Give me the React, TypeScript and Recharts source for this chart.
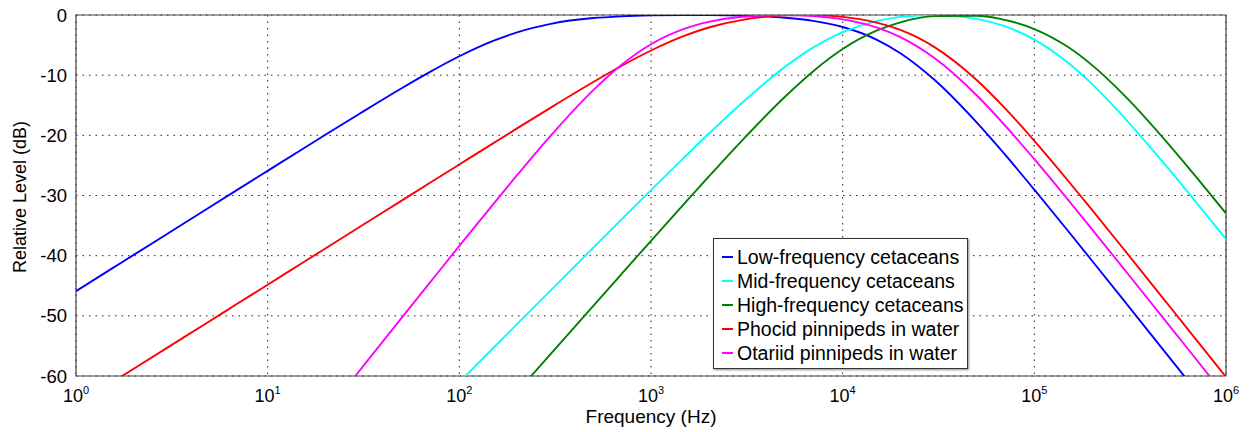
import React from 'react';
import { LineChart, Line, XAxis, YAxis, CartesianGrid, ReferenceArea, Legend } from 'recharts';

// Frequency samples (Hz)
const frequencies = [
  1, 1.5, 2, 3, 5, 7, 10, 15, 20, 30, 50, 70, 100, 150, 200, 300, 500, 700,
  1000, 1500, 2000, 3000, 5000, 7000, 10000, 15000, 20000, 30000, 50000, 70000,
  100000, 150000, 200000, 300000, 500000, 700000, 1000000,
];

// Relative level (dB) per group
const lowFrequencyCetaceans = [
  -45.89, -42.37, -39.87, -36.35, -31.91, -28.99, -25.9, -22.39, -19.91, -16.45, -12.17, -9.49,
  -6.86, -4.31, -2.88, -1.47, -0.51, -0.22, -0.06, 0.0, -0.01, -0.1, -0.46, -0.98, -2.0, -4.08,
  -6.35, -10.73, -17.85, -23.14, -29.03, -35.9, -40.84, -47.84, -56.69, -62.53, -68.72,
];
const midFrequencyCetaceans = [
  null, null, null, null, null, null, null, null, null, null, null, null,
  -61.02, -55.39, -51.39, -45.76, -38.68, -34.02, -29.11, -23.59, -19.74, -14.53, -8.62, -5.42,
  -2.86, -1.02, -0.31, 0.0, -0.64, -1.86, -4.09, -7.95, -11.49, -17.33, -25.51, -31.16, -37.25,
];
const highFrequencyCetaceans = [
  null, null, null, null, null, null, null, null, null, null, null, null, null, null,
  -62.66, -56.32, -48.34, -43.09, -37.54, -31.27, -26.87, -20.79, -13.59, -9.38, -5.66, -2.61,
  -1.22, -0.19, -0.12, -0.81, -2.33, -5.33, -8.33, -13.6, -21.41, -26.94, -32.96,
];
const phocidPinnipeds = [
  null, -61.3, -58.8, -55.28, -50.85, -47.92, -44.83, -41.3, -38.8, -35.28, -30.85, -27.93,
  -24.84, -21.33, -18.85, -15.39, -11.14, -8.48, -5.9, -3.43, -2.08, -0.8, -0.07, -0.02, -0.32,
  -1.26, -2.48, -5.29, -10.8, -15.44, -20.92, -27.55, -32.4, -39.34, -48.16, -53.99, -60.17,
];
const otariidPinnipeds = [
  null, null, null, null, null, null, null, null,
  -66.25, -59.21, -50.35, -44.53, -38.38, -31.46, -26.63, -20.04, -12.49, -8.32, -4.87, -2.27,
  -1.15, -0.3, 0.0, -0.17, -0.73, -2.06, -3.68, -7.12, -13.34, -18.29, -23.97, -30.72, -35.62,
  -42.59, -51.42, -57.26, -63.45,
];

const seriesKeys = ['lf', 'mf', 'hf', 'pw', 'ow'];
const seriesNames = [
  'Low-frequency cetaceans',
  'Mid-frequency cetaceans',
  'High-frequency cetaceans',
  'Phocid pinnipeds in water',
  'Otariid pinnipeds in water',
];
const seriesColors = ['#0000ff', '#00ffff', '#008000', '#ff0000', '#ff00ff'];

const xTicks = [1, 10, 100, 1000, 10000, 100000, 1000000];
const xTickExponents = ['0', '1', '2', '3', '4', '5', '6'];
const yTicks = [-60, -50, -40, -30, -20, -10, 0];

const seriesValues = [
  lowFrequencyCetaceans,
  midFrequencyCetaceans,
  highFrequencyCetaceans,
  phocidPinnipeds,
  otariidPinnipeds,
];

const data = frequencies.map((f, i) => {
  const row: Record<string, number | null> = { f };
  seriesKeys.forEach((k, s) => {
    row[k] = seriesValues[s][i];
  });
  return row;
});

const FONT = '"Liberation Sans", Arial, Helvetica, sans-serif';

const XTick = (props: any) => {
  const { x, y, payload } = props;
  const idx = xTicks.indexOf(payload.value);
  return (
    <text x={x} y={y + 26} textAnchor="middle" fontSize={18} fill="#000" fontFamily={FONT}>
      <tspan>10</tspan>
      <tspan dy={-8} fontSize={11}>
        {xTickExponents[idx]}
      </tspan>
    </text>
  );
};

const LegendBox = () => (
  <div
    style={{
      boxSizing: 'border-box',
      width: 255,
      height: 131,
      border: '1px solid #333',
      background: '#fff',
      boxShadow: '1px 1px 2px rgba(0,0,0,0.45)',
      padding: '6px 0 0 8px',
      fontFamily: FONT,
    }}
  >
    {seriesNames.map((name, i) => (
      <div key={name} style={{ display: 'flex', alignItems: 'center', height: 24 }}>
        <div style={{ width: 11, height: 2, background: seriesColors[i], marginRight: 4 }} />
        <span style={{ fontSize: 19.5, lineHeight: '24px', color: '#000', whiteSpace: 'nowrap' }}>{name}</span>
      </div>
    ))}
  </div>
);

export default function App() {
  return (
    <div style={{ position: 'absolute', left: 0, top: 0, background: '#fff' }}>
      <LineChart
        width={1253}
        height={432}
        data={data}
        margin={{ top: 15, right: 27, left: 0, bottom: 0 }}
        style={{ fontFamily: FONT }}
      >
        <CartesianGrid stroke="#222" strokeDasharray="1.5 5" strokeWidth={1} />
        <XAxis
          dataKey="f"
          type="number"
          scale="log"
          domain={[1, 1000000]}
          allowDataOverflow
          ticks={xTicks}
          interval={0}
          tick={<XTick />}
          tickSize={0}
          tickMargin={0}
          axisLine={false}
          height={56}
          label={{
            value: 'Frequency (Hz)',
            content: () => (
              <text x={651} y={423} textAnchor="middle" fontSize={19} fill="#000" fontFamily={FONT}>
                Frequency (Hz)
              </text>
            ),
          }}
        />
        <YAxis
          type="number"
          domain={[-60, 0]}
          allowDataOverflow
          ticks={yTicks}
          interval={0}
          width={76}
          tickSize={0}
          tickMargin={9}
          axisLine={false}
          tick={{ fill: '#000', fontSize: 18.5, fontFamily: FONT }}
          label={{
            value: 'Relative Level (dB)',
            content: () => (
              <text
                x={26}
                y={197}
                transform="rotate(-90 26 197)"
                textAnchor="middle"
                fontSize={18}
                fill="#000"
                fontFamily={FONT}
              >
                Relative Level (dB)
              </text>
            ),
          }}
        />
        <ReferenceArea x1={1} x2={1000000} y1={-60} y2={0} fill="none" stroke="#444" strokeWidth={1.2} />
        {seriesKeys.map((k, i) => (
          <Line
            key={k}
            dataKey={k}
            name={seriesNames[i]}
            type="monotone"
            stroke={seriesColors[i]}
            strokeWidth={1.9}
            dot={false}
            activeDot={false}
            isAnimationActive={false}
          />
        ))}
        <Legend
          layout="vertical"
          align="center"
          verticalAlign="middle"
          wrapperStyle={{ position: 'absolute', left: 713, top: 238, width: 255, height: 131 }}
          content={() => <LegendBox />}
        />
      </LineChart>
    </div>
  );
}
